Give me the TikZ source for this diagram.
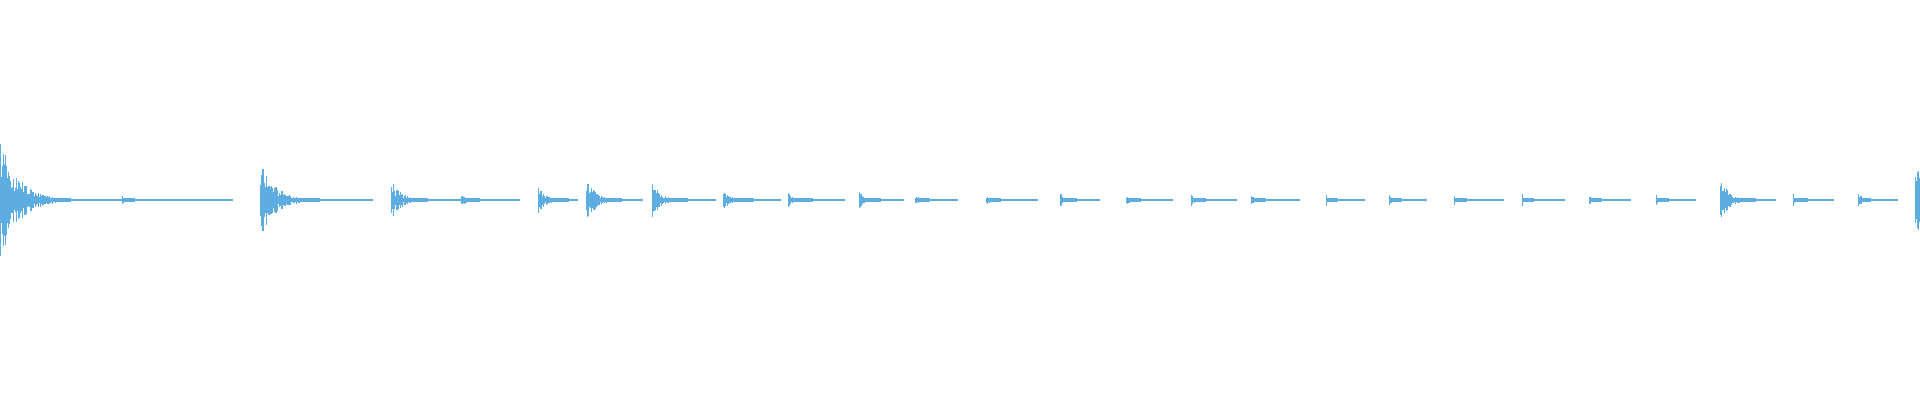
\documentclass[tikz,border=0pt]{standalone}
\begin{document}
\begin{tikzpicture}[x=0.012245cm,y=0.012245cm]
  \definecolor{wave}{HTML}{5DADE2}
  \tikzset{spike/.style={wave,line width=0.3pt},tail/.style={wave,line width=0.4pt}}
  \pgfmathsetseed{7}
  \useasboundingbox (0,-163.5) rectangle (1568,163.5);
  % burst: x / amplitude / decay / tail end
  \foreach \bx/\ba/\bd/\be in {0/50/60/190, 100/4/10/190, 213/32/50/305, 320/17/30/420,
      377/7/15/425, 440/12/25/472, 479/19/30/525, 533/14/30/585, 591/10/25/638,
      644/6/20/690, 702/7/18/738, 748/5/12/782, 806/6/12/848, 866/7/14/898,
      920/5/12/958, 973/5/12/1010, 1022/5/12/1062, 1083/5/10/1115, 1135/5/10/1165,
      1188/5/10/1228, 1243/5/10/1278, 1298/4/10/1332, 1353/4/10/1385,
      1405/17/30/1450, 1465/5/12/1498, 1518/7/10/1550}{
    \draw[tail] (\bx,0) -- (\be,0);
    \pgfmathtruncatemacro\n{\bd*1.6}
    \foreach \i in {0,...,\n}{
      \pgfmathsetmacro\h{max(1.5,\ba*exp(-\i*0.6*4/\bd)*(0.3+0.7*rnd))}
      \draw[spike] (\bx+\i*0.6,-\h) -- (\bx+\i*0.6,\h);
    }
  }
  \foreach \i in {0,...,8}{
    \pgfmathsetmacro\h{25*(0.4+0.6*rnd)}
    \draw[spike] (1564+\i*0.45,-\h) -- (1564+\i*0.45,\h);
  }
\end{tikzpicture}
\end{document}
